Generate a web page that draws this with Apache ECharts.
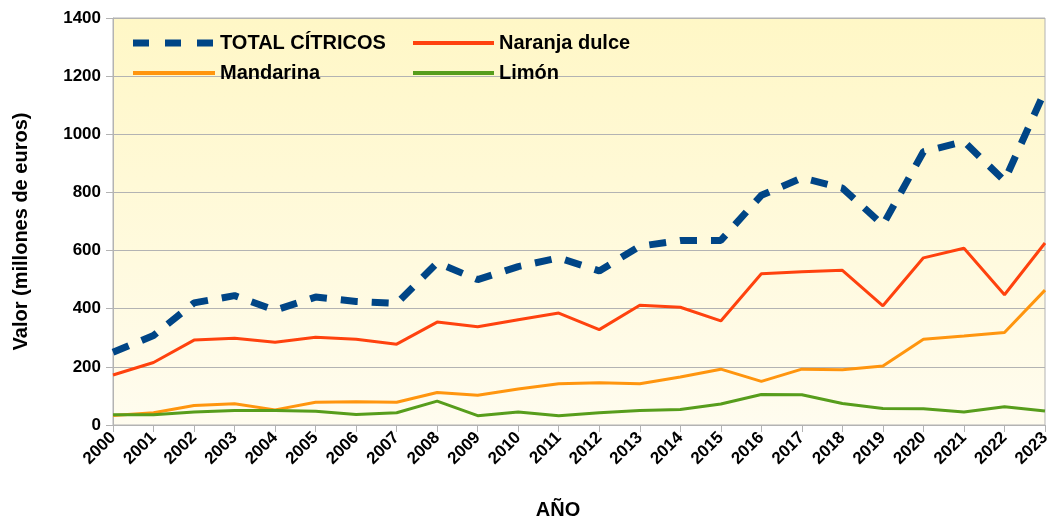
<!DOCTYPE html>
<html>
<head>
<meta charset="utf-8">
<script src="https://cdn.jsdelivr.net/npm/echarts@6/dist/echarts.min.js"></script>
<style>
  html, body { margin: 0; padding: 0; background: #fff; }
  #chart { width: 1047px; height: 520px; }
</style>
</head>
<body>
<div id="chart"></div>
<script>
// años
const years = ['2000', '2001', '2002', '2003', '2004', '2005', '2006', '2007', '2008', '2009', '2010', '2011',
  '2012', '2013', '2014', '2015', '2016', '2017', '2018', '2019', '2020', '2021', '2022', '2023']

// valores en millones de euros
const total = [250, 308, 420, 445, 395, 440, 425, 418, 558, 500, 545, 575,
  530, 615, 635, 635, 790, 850, 815, 688, 940, 975, 840, 1150]
const naranja = [172, 215, 292, 298, 285, 302, 295, 278, 354, 338, 362, 385,
  328, 412, 405, 358, 520, 527, 532, 410, 575, 608, 448, 626]
const mandarina = [33, 42, 67, 73, 52, 78, 80, 78, 112, 102, 124, 142,
  145, 142, 165, 192, 150, 192, 190, 203, 295, 306, 318, 464]
const limon = [35, 35, 45, 50, 50, 47, 36, 42, 82, 32, 45, 32,
  42, 50, 53, 72, 105, 104, 74, 57, 56, 45, 63, 48]

const font = 'Liberation Sans'
const chart = echarts.init(document.getElementById('chart'))

const legendText = (pad) => ({
  fontFamily: font, fontWeight: 'bold', fontSize: 20, color: '#000', padding: [0, 0, 0, pad]
})
// tres trazos para la leyenda discontinua
const dashIcon = 'path://M0,0h16v7h-16z M32,0h16v7h-16z M64,0h16v7h-16z'

chart.setOption({
  animation: false,
  legend: [
    { left: 128, top: 28, itemWidth: 80, itemHeight: 7, icon: dashIcon, selectedMode: false,
      textStyle: legendText(2), data: ['TOTAL CÍTRICOS'] },
    { left: 408, top: 28, itemWidth: 81, itemHeight: 4, icon: 'rect', selectedMode: false,
      textStyle: legendText(0), data: ['Naranja dulce'] },
    { left: 128, top: 58, itemWidth: 82, itemHeight: 4, icon: 'rect', selectedMode: false,
      textStyle: legendText(0), data: ['Mandarina'] },
    { left: 408, top: 58, itemWidth: 81, itemHeight: 4, icon: 'rect', selectedMode: false,
      textStyle: legendText(0), data: ['Limón'] }
  ],
  grid: {
    left: 113,
    right: 2,
    top: 18,
    bottom: 95,
    outerBoundsMode: 'none',
    containLabel: false,
    show: true,
    borderColor: '#b3b3b3',
    borderWidth: 1,
    backgroundColor: new echarts.graphic.LinearGradient(0, 0, 0, 1, [
      { offset: 0, color: '#fff7c6' },
      { offset: 1, color: '#fffcef' }
    ])
  },
  xAxis: {
    type: 'category',
    data: years,
    boundaryGap: false,
    name: 'AÑO',
    nameLocation: 'middle',
    nameGap: 75,
    nameMoveOverlap: false,
    nameTextStyle: { fontFamily: font, fontWeight: 'bold', fontSize: 20, color: '#000', padding: [0, 42, 0, 0] },
    axisLine: { lineStyle: { color: '#b3b3b3' } },
    axisTick: { alignWithLabel: true, length: 7, lineStyle: { color: '#b3b3b3' } },
    axisLabel: {
      rotate: 45,
      margin: 10,
      interval: 0,
      hideOverlap: false,
      fontFamily: font,
      fontWeight: 'bold',
      fontSize: 17,
      color: '#000'
    },
    splitLine: { show: false }
  },
  yAxis: {
    type: 'value',
    min: 0,
    max: 1400,
    interval: 200,
    name: 'Valor (millones de euros)',
    nameLocation: 'middle',
    nameGap: 82,
    nameMoveOverlap: false,
    nameTextStyle: { fontFamily: font, fontWeight: 'bold', fontSize: 20, color: '#000', padding: [0, 20, 0, 0] },
    axisLine: { show: true, lineStyle: { color: '#b3b3b3' } },
    axisTick: { show: true, length: 7, lineStyle: { color: '#b3b3b3' } },
    axisLabel: {
      margin: 12,
      fontFamily: font,
      fontWeight: 'bold',
      fontSize: 17,
      color: '#000',
      formatter: (v) => String(v)
    },
    splitLine: { lineStyle: { color: '#b3b3b3' } }
  },
  series: [
    {
      name: 'TOTAL CÍTRICOS',
      type: 'line',
      data: total,
      symbol: 'none',
      z: 5,
      lineStyle: { color: '#004586', width: 7, type: [17, 14], cap: 'butt' },
      itemStyle: { color: '#004586' }
    },
    {
      name: 'Naranja dulce',
      type: 'line',
      data: naranja,
      symbol: 'none',
      lineStyle: { color: '#ff420e', width: 3 },
      itemStyle: { color: '#ff420e' }
    },
    {
      name: 'Mandarina',
      type: 'line',
      data: mandarina,
      symbol: 'none',
      lineStyle: { color: '#ff950e', width: 3 },
      itemStyle: { color: '#ff950e' }
    },
    {
      name: 'Limón',
      type: 'line',
      data: limon,
      symbol: 'none',
      lineStyle: { color: '#579d1c', width: 3 },
      itemStyle: { color: '#579d1c' }
    }
  ]
})
</script>
</body>
</html>
